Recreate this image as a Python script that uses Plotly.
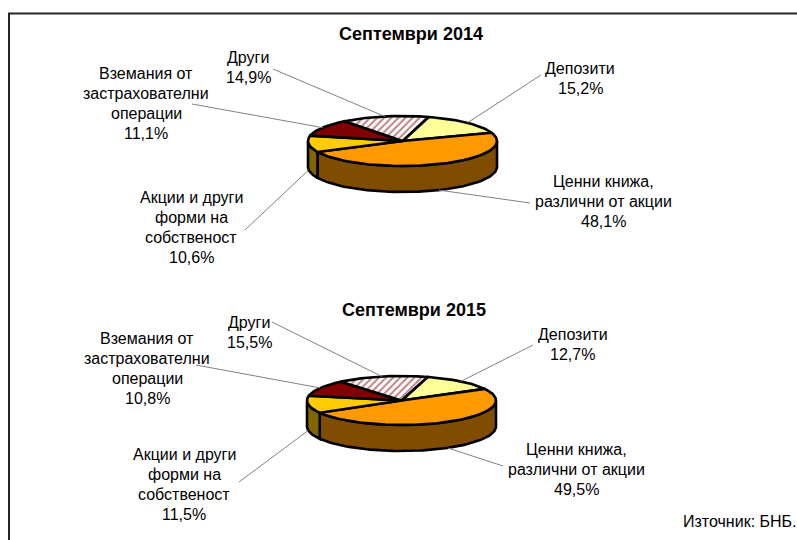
import math
import plotly.graph_objects as go

TITLES = ["Септември 2014", "Септември 2015"]
CATEGORIES = ["Депозити", "Ценни книжа,<br>различни от акции", "Акции и други<br>форми на<br>собственост",
              "Вземания от<br>застрахователни<br>операции", "Други"]
VALUES_2014 = [15.2, 48.1, 10.6, 11.1, 14.9]
VALUES_2015 = [12.7, 49.5, 11.5, 10.8, 15.5]
LABELS_2014 = ["15,2%", "48,1%", "10,6%", "11,1%", "14,9%"]
LABELS_2015 = ["12,7%", "49,5%", "11,5%", "10,8%", "15,5%"]
SOURCE = "Източник: БНБ."

TOP_COLORS = ["#FFFF99", "#FF9900", "#FFCC00", "#800000", None]
WALL_COLORS = ["#808033", "#804D00", "#806600", "#400000", "#808080"]
FONT = "Liberation Sans"

fig = go.Figure()

def arc(cx, cy, rx, ry, a0, a1, n=None):
    n = n or max(2, int(abs(a1 - a0) / 2))
    pts = [a0 + (a1 - a0) * i / n for i in range(n + 1)]
    return ([cx + rx * math.sin(math.radians(a)) for a in pts],
            [cy - ry * math.cos(math.radians(a)) for a in pts])

def poly(xs, ys, color=None, pattern=False):
    kw = dict(x=xs, y=ys, mode="lines", fill="toself",
              line=dict(color="black", width=2.6), hoverinfo="skip", showlegend=False)
    if pattern:
        kw["fillcolor"] = "white"
        kw["fillpattern"] = dict(shape="/", fgcolor="#800000", bgcolor="white", size=5, solidity=0.4)
    else:
        kw["fillcolor"] = color
    fig.add_trace(go.Scatter(**kw))

def pie(values, cx, cy, rx, ry, depth, start):
    total = sum(values)
    bounds = [start]
    for v in values:
        bounds.append(bounds[-1] + v / total * 360)
    for i, v in enumerate(values):
        a0, a1 = max(bounds[i], 90), min(bounds[i + 1], 270)
        if a1 > a0:
            tx, ty = arc(cx, cy, rx, ry, a0, a1)
            bx, by = arc(cx, cy + depth, rx, ry, a1, a0)
            poly(tx + bx + tx[:1], ty + by + ty[:1], WALL_COLORS[i])
    for i, v in enumerate(values):
        ax, ay = arc(cx, cy, rx, ry, bounds[i], bounds[i + 1])
        xs = [cx] + ax + [cx]
        ys = [cy] + ay + [cy]
        if TOP_COLORS[i] is None:
            poly(xs, ys, pattern=True)
        else:
            poly(xs, ys, TOP_COLORS[i])
    return bounds

def leaders(bounds, cx, cy, rx, ry, depth, ends):
    for i, end in enumerate(ends):
        mid = (bounds[i] + bounds[i + 1]) / 2
        px = cx + rx * math.sin(math.radians(mid))
        py = cy - ry * math.cos(math.radians(mid))
        if 90 < mid < 270:
            py += depth
        fig.add_trace(go.Scatter(x=[px, end[0]], y=[py, end[1]], mode="lines",
                                 line=dict(color="#808080", width=1),
                                 hoverinfo="skip", showlegend=False))

def label(text, x, y):
    for j, line in enumerate(text.split("<br>")):
        fig.add_annotation(x=x, y=y + 20 * j, text=line, showarrow=False, xanchor="center", yanchor="middle",
                           font=dict(family=FONT, size=16, color="black"))

P1 = dict(cx=402.5, cy=141, rx=94.5, ry=25, depth=26)
P2 = dict(cx=401.5, cy=400.5, rx=94.5, ry=24.5, depth=26)

ENDS_1 = [(541, 75), (530, 203), (245, 230), (192, 104), (273, 69)]
ENDS_2 = [(533, 345), (503, 466), (239, 482), (196, 365), (272, 322)]
POS_1 = [(580, 68), (603.5, 181), (191, 197), (146, 73), (248, 57)]
POS_2 = [(572.5, 334), (576, 449), (184, 454), (147, 338), (249, 322)]

b1 = pie(VALUES_2014, start=16, **P1)
b2 = pie(VALUES_2015, start=16, **P2)
leaders(b1, ends=ENDS_1, **P1)
leaders(b2, ends=ENDS_2, **P2)

for cats, vals, pos in ((CATEGORIES, LABELS_2014, POS_1), (CATEGORIES, LABELS_2015, POS_2)):
    for c, v, p in zip(cats, vals, pos):
        label(c + "<br>" + v, p[0], p[1])

for t, x, y in ((TITLES[0], 410.5, 34), (TITLES[1], 414, 310)):
    fig.add_annotation(x=x, y=y, text="<b>" + t + "</b>", showarrow=False,
                       font=dict(family=FONT, size=18, color="black"))
fig.add_annotation(x=740, y=521, text=SOURCE, showarrow=False, font=dict(family=FONT, size=16, color="black"))

fig.update_layout(width=797, height=540, margin=dict(l=0, r=0, t=0, b=0), autosize=False,
                  paper_bgcolor="white", plot_bgcolor="white",
                  xaxis=dict(range=[0, 797], visible=False, fixedrange=True),
                  yaxis=dict(range=[540, 0], visible=False, fixedrange=True),
                  shapes=[dict(type="rect", xref="x", yref="y", x0=9, y0=13.5, x1=810, y1=560,
                               line=dict(color="#262626", width=2), fillcolor="rgba(0,0,0,0)")])
fig.write_html("out.html", config=dict(displayModeBar=False),
               post_script="document.body.style.margin='0';document.documentElement.style.overflow='hidden';")
